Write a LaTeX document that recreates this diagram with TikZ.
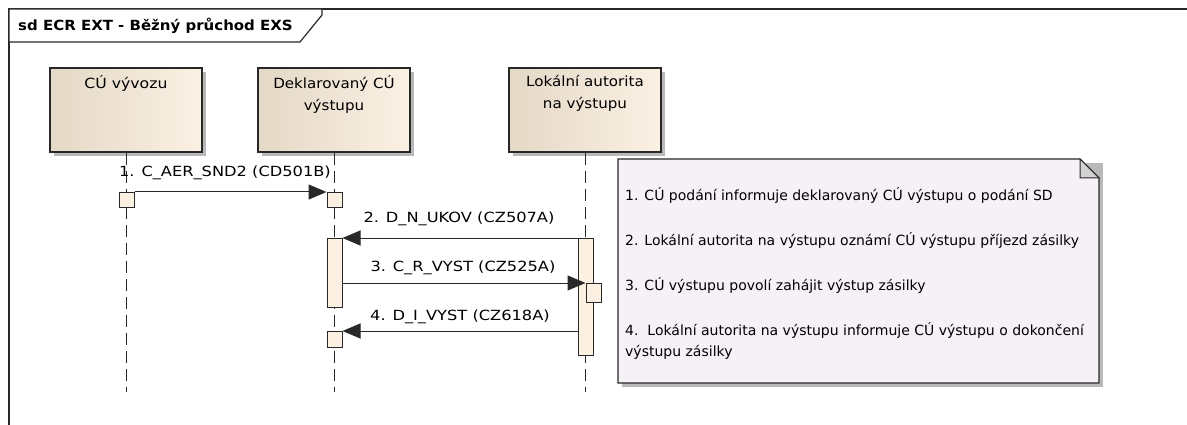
\documentclass[tikz,border=0pt]{standalone}
\usepackage{fontspec}
\usepackage{graphicx}
\setmainfont{DejaVu Sans}
\usetikzlibrary{arrows.meta,shadows}
\definecolor{frameC}{RGB}{40,40,40}
\definecolor{headL}{RGB}{228,216,198}
\definecolor{headR}{RGB}{251,241,228}
\definecolor{actC}{RGB}{251,240,226}
\definecolor{noteC}{RGB}{246,241,246}
\definecolor{shadowC}{RGB}{185,185,185}
\definecolor{foldC}{RGB}{210,210,210}
\newcommand{\wideText}[2]{\scalebox{#1}[1]{#2}}
\tikzset{
  txt/.style={font=\fontsize{14}{22}\selectfont, inner sep=0pt},
  headbox/.style={draw=frameC, line width=1.2pt, left color=headL, right color=headR,
     minimum width=152pt, minimum height=84pt, inner sep=0pt,
     drop shadow={shadow xshift=4pt, shadow yshift=-4pt, fill=shadowC, opacity=1}},
  actbox/.style={draw=frameC, line width=1pt, fill=actC, inner sep=0pt, minimum width=15pt},
  lifeline/.style={draw=frameC, line width=1pt, dash pattern=on 12pt off 6pt},
  msg/.style={draw=frameC, line width=1pt, -{Triangle[length=18pt,width=15pt]}},
}
\begin{document}
\begin{tikzpicture}[x=1pt,y=-1pt]
\useasboundingbox (0,0) rectangle (1187,425);
% frame
\draw[frameC, line width=1.5pt] (9,430) -- (9,9) -- (1192,9);
\draw[frameC, line width=1.2pt, fill=white] (9,9) -- (322,9) -- (322,15) -- (300,42) -- (9,42) -- cycle;
\node[txt, anchor=west, font=\fontsize{14}{22}\selectfont\bfseries] (title) at (18,26) {\wideText{1.07}{sd ECR EXT - Běžný průchod EXS}};
% lifeline heads
\node[headbox] (h1) at (126,110) {};
\node[headbox] (h2) at (334,110) {};
\node[headbox] (h3) at (585,110) {};
\node[txt, anchor=north, align=center] (t1) at (126,75) {\wideText{1.12}{CÚ vývozu}};
\node[txt, anchor=north, align=center] (t2) at (334,75) {\wideText{1.08}{Deklarovaný CÚ}\\\wideText{1.08}{výstupu}};
\node[txt, anchor=north, align=center] (t3) at (585,75) {\wideText{1.08}{Lokální autorita}\\\wideText{1.08}{na výstupu}};
% lifelines
\coordinate (e1) at (126.5,392);
\coordinate (e2) at (334.5,392);
\coordinate (e3) at (585.5,392);
\draw[lifeline] (h1.south -| e1) -- (e1);
\draw[lifeline] (h2.south -| e2) -- (e2);
\draw[lifeline] (h3.south -| e3) -- (e3);
% activations
\node[actbox, minimum height=15pt, anchor=north] (a1) at (126.5,192) {};
\node[actbox, minimum height=15pt, anchor=north] (a2) at (334.5,192) {};
\node[actbox, minimum height=69pt, anchor=north] (b2) at (334.5,238) {};
\node[actbox, minimum height=117pt, anchor=north] (b3) at (585.5,238) {};
\node[actbox, minimum height=19pt, anchor=north] (c3) at (593.5,283) {};
\node[actbox, minimum height=16pt, anchor=north] (d2) at (334.5,331) {};
% messages
\draw[msg] (a1.north east) -- (a2.north west);
\node[txt] (m1) at (225,173) {\wideText{1.16}{1. C\_AER\_SND2 (CD501B)}};
\draw[msg] (b3.north west) -- (b2.north east);
\node[txt] (m2) at (459,219) {\wideText{1.16}{2. D\_N\_UKOV (CZ507A)}};
\coordinate (s3) at (b2.east |- c3.north);
\draw[msg] (s3) -- (c3.north west);
\node[txt] (m3) at (463,268) {\wideText{1.16}{3. C\_R\_VYST (CZ525A)}};
\draw[msg] (b3.west |- d2.north) -- (d2.north east);
\node[txt] (m4) at (460,317) {\wideText{1.16}{4. D\_I\_VYST (CZ618A)}};
% note
\fill[shadowC] (622,163) -- (1103,163) -- (1103,387) -- (622,387) -- cycle;
\draw[frameC, line width=1.2pt, fill=noteC] (618,159) -- (1080,159) -- (1099,178) -- (1099,383) -- (618,383) -- cycle;
\draw[frameC, line width=1pt, fill=foldC] (1080,159) -- (1080,178) -- (1099,178) -- cycle;
\node[txt, anchor=west] (n1) at (625,195) {1. CÚ podání informuje deklarovaný CÚ výstupu o podání SD};
\node[txt, anchor=west] (n2) at (625,240) {2. Lokální autorita na výstupu oznámí CÚ výstupu příjezd zásilky};
\node[txt, anchor=west] (n3) at (625,285) {3. CÚ výstupu povolí zahájit výstup zásilky};
\node[txt, anchor=west] (n4) at (625,330) {4.\ \ Lokální autorita na výstupu informuje CÚ výstupu o dokončení};
\node[txt, anchor=west] (n5) at (625,352) {výstupu zásilky};
\end{tikzpicture}
\end{document}
